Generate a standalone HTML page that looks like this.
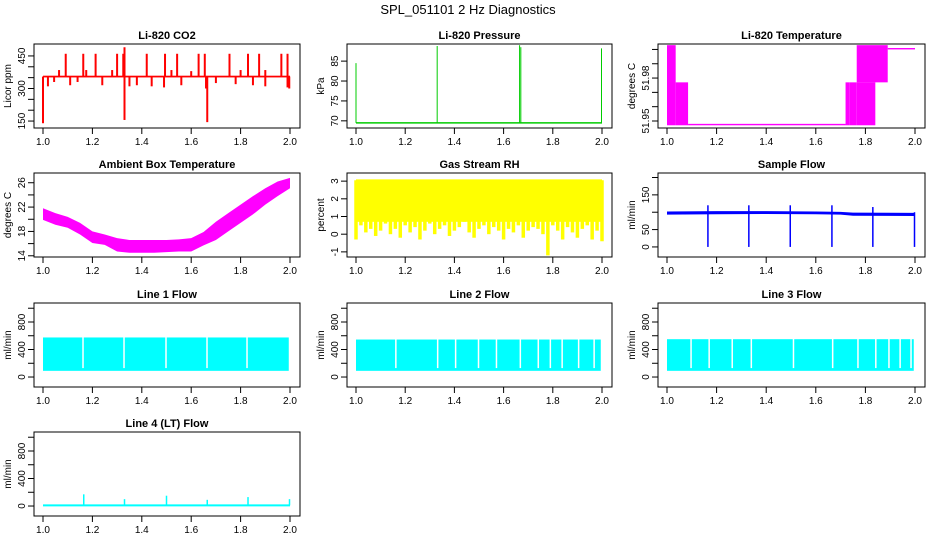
<!DOCTYPE html>
<html><head><meta charset="utf-8"><style>
body{margin:0;background:#fff}
svg{display:block;font-family:"Liberation Sans",sans-serif}
</style></head><body>
<svg id="c" width="936" height="540" xmlns="http://www.w3.org/2000/svg">
<rect width="936" height="540" fill="#fff"/>
<text x="468" y="14" text-anchor="middle" font-size="13">SPL_051101  2 Hz Diagnostics</text>
</svg>
<script>
// ---- data arrays ----
const xTicks = [1.0, 1.2, 1.4, 1.6, 1.8, 2.0];
const xTickLabels = ["1.0", "1.2", "1.4", "1.6", "1.8", "2.0"];
// CO2
const co2Base = 355;
const co2ExcX = [1.0, 1.33, 1.665, 1.66, 1.997, 1.02, 1.045, 1.11, 1.14, 1.24, 1.35, 1.38, 1.44, 1.49, 1.56, 1.70, 1.78, 1.85, 1.90, 1.99, 1.065, 1.175, 1.28, 1.52, 1.60, 1.80, 1.90, 1.092, 1.163, 1.213, 1.30, 1.325, 1.33, 1.42, 1.494, 1.543, 1.63, 1.655, 1.755, 1.83, 1.875, 1.965, 1.99];
const co2ExcV = [140, 155, 145, 300, 300, 310, 330, 315, 330, 315, 310, 315, 310, 305, 315, 325, 320, 315, 310, 305, 385, 385, 385, 385, 380, 385, 385, 460, 460, 460, 460, 460, 490, 460, 460, 460, 460, 460, 460, 460, 460, 460, 460];
// Pressure
const presBase = 69.5;
const presSpikeX = [1.0, 1.33, 1.665, 1.67, 1.998];
const presSpikeV = [84.5, 88.8, 89.0, 88.5, 88.2];
// Li-820 temperature blocks [x0,x1,lo,hi]
const tempBlockX0 = [1.0, 1.035, 1.085, 1.72, 1.735, 1.765, 1.765, 1.89];
const tempBlockX1 = [1.035, 1.085, 1.72, 1.735, 1.765, 1.89, 1.84, 2.0];
const tempBlockLo = [51.947, 51.947, 51.947, 51.947, 51.947, 51.977, 51.947, 52.000];
const tempBlockHi = [52.003, 51.977, 51.948, 51.977, 51.977, 52.003, 51.977, 52.001];
// Ambient box temperature envelope
const ambX = [1.0, 1.05, 1.1, 1.15, 1.2, 1.25, 1.3, 1.35, 1.4, 1.45, 1.5, 1.55, 1.6, 1.65, 1.7, 1.75, 1.8, 1.85, 1.9, 1.95, 2.0];
const ambHi = [21.8, 21.0, 20.4, 19.4, 18.0, 17.5, 16.9, 16.6, 16.6, 16.6, 16.6, 16.7, 16.9, 17.9, 19.6, 21.0, 22.4, 23.8, 25.1, 26.2, 26.8];
const ambLo = [19.9, 19.1, 18.6, 17.5, 16.1, 15.8, 14.7, 14.5, 14.5, 14.5, 14.6, 14.7, 14.7, 15.7, 16.6, 18.0, 19.4, 20.8, 22.4, 23.8, 25.1];
// Gas stream RH
const rhTop = 3.05;
const rhLow = [-0.3,0.5,0.1,0.3,-0.1,0.2,0.6,0.0,0.3,-0.2,0.5,0.1,0.4,-0.3,0.2,0.6,0.0,0.3,0.5,-0.1,0.2,0.4,0.7,0.1,-0.2,0.3,0.5,0.0,0.4,0.2,-0.3,0.3,0.1,0.5,-0.2,0.2,0.4,0.3,0.0,-1.2,0.5,0.2,-0.3,0.4,0.1,-0.2,0.3,0.5,-0.3,0.2,-0.4];
// Sample flow
const sfBandX = [1.0, 1.2, 1.4, 1.6, 1.7, 1.75, 2.0];
const sfBandHi = [102, 103, 103, 102, 101, 99, 98];
const sfBandLo = [93, 94, 95, 94, 93, 90, 89];
const sfDropX = [1.165, 1.33, 1.497, 1.665, 1.83, 1.998];
const sfSpikeV = [120, 120, 120, 120, 115, 100];
// Line flows
const l1Gaps = [1.162, 1.328, 1.498, 1.664, 1.826];
const l2Gaps = [1.162, 1.332, 1.405, 1.498, 1.571, 1.668, 1.741, 1.79, 1.838, 1.905, 1.968];
const l3Gaps = [1.097, 1.17, 1.263, 1.34, 1.51, 1.668, 1.77, 1.842, 1.895, 1.94, 1.984];
const flowHi = [575, 545, 550];
const flowLo = [90, 90, 90];
const l4Base = 10;
const l4SpikeX = [1.165, 1.33, 1.5, 1.665, 1.83, 1.998];
const l4SpikeV = [170, 100, 150, 90, 130, 100];

// ---- layout ----
const colL = [34, 347, 658], colR = [300, 612, 925];
const rowT = [44, 173, 303, 432], rowB = [128, 257, 387, 516];
const svg = document.getElementById('c');
const NS = 'http://www.w3.org/2000/svg';
function mk(tag, attrs, parent) {
  const e = document.createElementNS(NS, tag);
  for (const k in attrs) e.setAttribute(k, attrs[k]);
  (parent || svg).appendChild(e);
  return e;
}
function panel(col, row, title, ylab, ymin, ymax, yt, ylabels, name) {
  const L = colL[col], R = colR[col], T = rowT[row], B = rowB[row];
  const g = mk('g', {});
  
  
  const X = d => L + 9 + (d - 1) * (R - L - 19);
  const Y = v => T + (ymax - v) / (ymax - ymin) * (B - T);
  const t = mk('text', {x: (L + R) / 2, y: T - 5, 'text-anchor': 'middle', 'font-size': 11, 'font-weight': 'bold'}, g);
  t.textContent = title;
  
  
  const yl = mk('text', {x: 0, y: 0, transform: `translate(${L - 23},${(T + B) / 2}) rotate(-90)`, 'text-anchor': 'middle', 'font-size': 10}, g);
  yl.textContent = ylab;
  
  
  const plot = mk('g', {}, g);
  const box = mk('rect', {x: L, y: T, width: R - L, height: B - T, fill: 'none', stroke: '#000', 'stroke-width': 1}, g);
  
  
  mk('line', {x1: X(1), x2: X(2), y1: B, y2: B, stroke: '#000'}, g);
  xTicks.forEach((v, i) => {
    mk('line', {x1: X(v), x2: X(v), y1: B, y2: B + 6, stroke: '#000'}, g);
    const tl = mk('text', {x: X(v), y: B + 17, 'text-anchor': 'middle', 'font-size': 10}, g);
    tl.textContent = xTickLabels[i];
    
    
  });
  yt.forEach((v, i) => {
    mk('line', {x1: L - 6, x2: L, y1: Y(v), y2: Y(v), stroke: '#000'}, g);
    if (ylabels[i]) {
      const tl = mk('text', {x: 0, y: 0, transform: `translate(${L - 9},${Y(v)}) rotate(-90)`, 'text-anchor': 'middle', 'font-size': 10}, g);
      tl.textContent = ylabels[i];
      
      
    }
  });
  return {X, Y, plot, L, R, T, B};
}
function vline(p, x, y1, y2, color, w) {
  const e = mk('line', {x1: p.X(x), x2: p.X(x), y1: p.Y(y1), y2: p.Y(y2), stroke: color, 'stroke-width': w}, p.plot);
  return e;
}
function band(p, xs, hi, lo, color) {
  let pts = xs.map((x, i) => p.X(x) + ',' + p.Y(hi[i]));
  pts = pts.concat(xs.map((x, i) => p.X(x) + ',' + p.Y(lo[i])).reverse());
  return mk('polygon', {points: pts.join(' '), fill: color}, p.plot);
}

// CO2
let p = panel(0, 0, 'Li-820 CO2', 'Licor ppm', 118, 505, [150,200,250,300,350,400,450], ['150','','','300','','','450'], 'co2');
let e = mk('rect', {x: p.X(1), y: p.Y(co2Base + 4), width: p.X(2) - p.X(1), height: p.Y(co2Base - 4) - p.Y(co2Base + 4), fill: 'red'}, p.plot);


co2ExcX.forEach((x, i) => {
  const l = vline(p, x, co2Base, co2ExcV[i], 'red', 2);
  
  
});

// Pressure
p = panel(1, 0, 'Li-820 Pressure', 'kPa', 68.2, 89.3, [70,75,80,85], ['70','75','80','85'], 'pressure');
e = mk('line', {x1: p.X(1), x2: p.X(2), y1: p.Y(presBase), y2: p.Y(presBase), stroke: '#00cc00', 'stroke-width': 1.5}, p.plot);


presSpikeX.forEach((x, i) => {
  const l = vline(p, x, presBase, presSpikeV[i], '#00cc00', 1);
  
  
});

// Li-820 temperature
p = panel(2, 0, 'Li-820 Temperature', 'degrees C', 51.9451, 52.0038, [51.95,51.96,51.97,51.98,51.99,52.0], ['51.95','','','51.98','',''], 'li820-temp');
tempBlockX0.forEach((x0, i) => {
  const r = mk('rect', {x: p.X(x0), y: p.Y(tempBlockHi[i]), width: p.X(tempBlockX1[i]) - p.X(x0), height: Math.max(1.2, p.Y(tempBlockLo[i]) - p.Y(tempBlockHi[i])), fill: '#ff00ff'}, p.plot);
  
  
});

// Ambient
p = panel(0, 1, 'Ambient Box Temperature', 'degrees C', 13.8, 27.6, [14,16,18,20,22,24,26], ['14','','18','','22','','26'], 'ambient-temp');
e = band(p, ambX, ambHi, ambLo, '#ff00ff');



// RH
p = panel(1, 1, 'Gas Stream RH', 'percent', -1.29, 3.46, [-1,0,1,2,3], ['-1','0','1','2','3'], 'rh');
e = mk('rect', {x: p.X(1), y: p.Y(rhTop + 0.05), width: p.X(2) - p.X(1), height: p.Y(0.7) - p.Y(rhTop + 0.05), fill: '#ffff00'}, p.plot);


rhLow.forEach((v, i) => {
  const x = 1 + i * 0.02;
  const l = vline(p, x, rhTop, v, '#ffff00', 3.5);
  
  
});

// Sample flow
p = panel(2, 1, 'Sample Flow', 'ml/min', -29, 213, [0,50,100,150,200], ['0','50','','150',''], 'sample-flow');
e = band(p, sfBandX, sfBandHi, sfBandLo, '#0000ff');


sfDropX.forEach((x, i) => {
  const l = vline(p, x, sfSpikeV[i], 0, '#0000ff', 1.5);
  
  
});

// Line flows
const flowTicks = [0,200,400,600,800,1000], flowLabels = ['0','','400','','800',''];
[[0, 'Line 1 Flow', l1Gaps, 'line1-flow'], [1, 'Line 2 Flow', l2Gaps, 'line2-flow'], [2, 'Line 3 Flow', l3Gaps, 'line3-flow']].forEach((c, k) => {
  const q = panel(c[0], 2, c[1], 'ml/min', -145, 1076, flowTicks, flowLabels, c[3]);
  const r = mk('rect', {x: q.X(1), y: q.Y(flowHi[k]), width: q.X(1.995) - q.X(1), height: q.Y(flowLo[k]) - q.Y(flowHi[k]), fill: '#00ffff'}, q.plot);
  
  
  c[2].forEach(gx => {
    const l = vline(q, gx, flowHi[k] + 5, flowLo[k] + 40, '#ffffff', 1.5);
    
    
  });
});
p = panel(0, 3, 'Line 4 (LT) Flow', 'ml/min', -145, 1076, flowTicks, flowLabels, 'line4-flow');
e = mk('line', {x1: p.X(1), x2: p.X(2), y1: p.Y(l4Base), y2: p.Y(l4Base), stroke: '#00ffff', 'stroke-width': 2}, p.plot);


l4SpikeX.forEach((x, i) => {
  const l = vline(p, x, l4Base, l4SpikeV[i], '#00ffff', 1.5);
  
  
});
</script>
</body></html>
